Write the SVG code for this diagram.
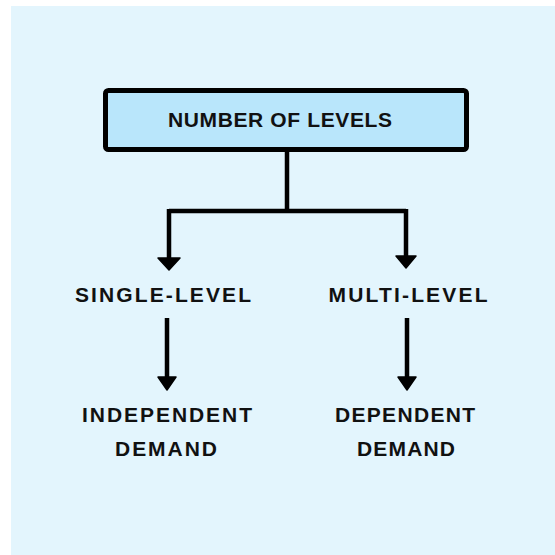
<svg xmlns="http://www.w3.org/2000/svg" width="555" height="555" viewBox="0 0 555 555">
<defs>
<style>
.lbl{font-family:"Liberation Sans",Arial,sans-serif;font-size:21px;font-weight:bold;fill:#111;text-anchor:middle}
.ln{fill:none;stroke:#000;stroke-width:4.5;stroke-linejoin:round;stroke-linecap:butt}
.ah{fill:#000;stroke:#000;stroke-width:1.5;stroke-linejoin:round}
</style>
</defs>
<rect x="11" y="6" width="544" height="549" fill="#E3F5FD"/>
<g id="node-levels">
<rect x="105.5" y="90.5" width="361" height="59" rx="3" fill="#B9E6FB" stroke="#000" stroke-width="5"/>
<text class="lbl" x="280" y="127" textLength="224" lengthAdjust="spacing">NUMBER OF LEVELS</text>
</g>
<g id="node-single">
<text class="lbl" x="163" y="302" textLength="176" lengthAdjust="spacing">SINGLE-LEVEL</text>
</g>
<g id="node-multi">
<text class="lbl" x="408" y="302" textLength="159" lengthAdjust="spacing">MULTI-LEVEL</text>
</g>
<g id="node-independent">
<text class="lbl" x="167" y="422" textLength="170" lengthAdjust="spacing">INDEPENDENT</text>
<text class="lbl" x="166" y="456" textLength="102" lengthAdjust="spacing">DEMAND</text>
</g>
<g id="node-dependent">
<text class="lbl" x="405" y="422" textLength="140" lengthAdjust="spacing">DEPENDENT</text>
<text class="lbl" x="406" y="456" textLength="98" lengthAdjust="spacing">DEMAND</text>
</g>
<g id="connectors">
<path class="ln" d="M287 152 V211 M169 211 H406 M169 209 V258 M406 209 V256"/>
<polygon class="ah" points="158,258 180,258 169,270"/>
<polygon class="ah" points="396,256 416,256 406,268"/>
<path class="ln" d="M167 318 V378 M407 318 V378"/>
<polygon class="ah" points="158,377 176,377 167,390"/>
<polygon class="ah" points="398,377 416,377 407,390"/>
</g>
</svg>
